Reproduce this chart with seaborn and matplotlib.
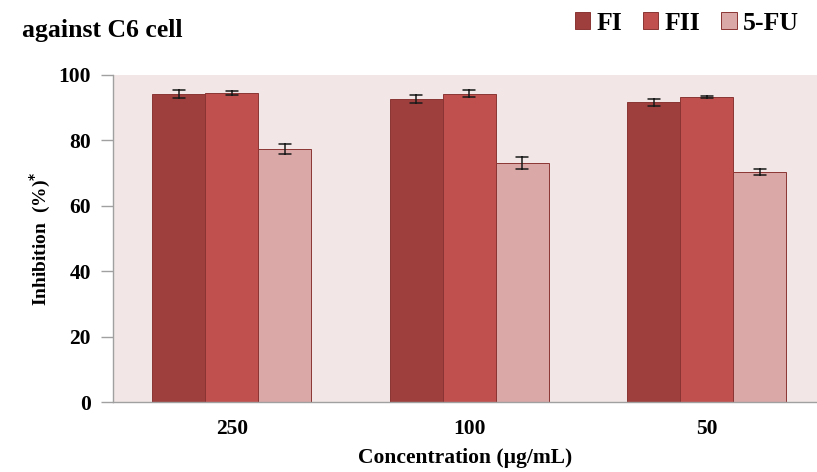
import numpy as np
import pandas as pd
import matplotlib
matplotlib.use("Agg")
import matplotlib.pyplot as plt
import seaborn as sns
from matplotlib.ticker import FixedLocator
from matplotlib.patches import Patch

concentrations = ["250", "100", "50"]
series = ["FI", "FII", "5-FU"]
fi_vals = [94.2, 92.7, 91.6]
fii_vals = [94.4, 94.3, 93.4]
fu_vals = [77.3, 73.2, 70.4]
fi_err = [1.2, 1.2, 1.0]
fii_err = [0.6, 1.0, 0.3]
fu_err = [1.5, 1.8, 1.0]

colors = ["#9E3F3D", "#C0504D", "#DAA8A7"]

rows = []
for name, vals, errs in [("FI", fi_vals, fi_err), ("FII", fii_vals, fii_err), ("5-FU", fu_vals, fu_err)]:
    for c, v, e in zip(concentrations, vals, errs):
        rows.append({"conc": c, "series": name, "val": v - e})
        rows.append({"conc": c, "series": name, "val": v + e})
df = pd.DataFrame(rows)

sns.set_theme(style="white")
plt.rcParams['font.family'] = ['Liberation Serif', 'DejaVu Serif']
plt.rcParams['font.weight'] = 'bold'
plt.rcParams['text.color'] = 'black'
plt.rcParams['axes.labelcolor'] = 'black'
plt.rcParams['xtick.color'] = 'black'
plt.rcParams['ytick.color'] = 'black'

fig = plt.figure(figsize=(8.17, 4.72), dpi=100)
ax = fig.add_axes([113/817, 1-402/472, 1-113/817, (402-75)/472])
ax.set_facecolor("#F2E6E6")

sns.barplot(data=df, x="conc", y="val", hue="series", order=concentrations,
            hue_order=series, palette=colors, errorbar="se", width=0.67,
            capsize=0.15, err_kws={"color": "#1a1a1a", "linewidth": 1.1},
            edgecolor="#8A3533", linewidth=0.7, saturation=1, ax=ax, legend=False)

ax.set_ylim(0, 100)
ax.set_xlim(-0.5, -0.5 + (817-113)/237.5)
ax.set_yticks([0, 20, 40, 60, 80, 100])
ax.set_yticklabels(["0", "20", "40", "60", "80", "100"], fontsize=15.5, fontweight="bold")
ax.set_xticks([0, 1, 2])
ax.set_xticklabels(concentrations, fontsize=15.5, fontweight="bold")
ax.xaxis.set_minor_locator(FixedLocator([-0.5, 0.5, 1.5, 2.5]))
ax.tick_params(axis="x", which="major", length=0, pad=12, colors="black")
ax.tick_params(axis="x", which="minor", length=5, color="#A0A0A0", width=1, direction="out")
ax.tick_params(axis="y", length=9, color="#A0A0A0", width=1, direction="out", left=True, pad=7, labelcolor="black")

for s in ["top", "right"]:
    ax.spines[s].set_visible(False)
for s in ["left", "bottom"]:
    ax.spines[s].set_color("#A0A0A0")
    ax.spines[s].set_linewidth(1)

ax.set_xlabel("Concentration (µg/mL)", fontsize=15.5, fontweight="bold", labelpad=7, color="black")
ax.set_ylabel("Inhibition  (%)$^{*}$", fontsize=14, fontweight="bold", labelpad=4, color="black")

fig.text(22/817, 1-31/472, "against C6 cell", fontsize=18.5, fontweight="bold", va="center", ha="left", color="black")

handles = [Patch(facecolor=c, edgecolor="#8A3533", linewidth=0.7) for c in colors]
leg = fig.legend(handles, series, loc="center right", bbox_to_anchor=(1.0, 1-23/472), ncol=3,
           frameon=False, prop={"family": "Liberation Serif", "weight": "bold", "size": 18.5},
           handlelength=0.6, handleheight=0.6, handletextpad=0.25, columnspacing=0.8, borderaxespad=0.3)
for t in leg.get_texts():
    t.set_color("black")

fig.savefig("out.png", dpi=100)
